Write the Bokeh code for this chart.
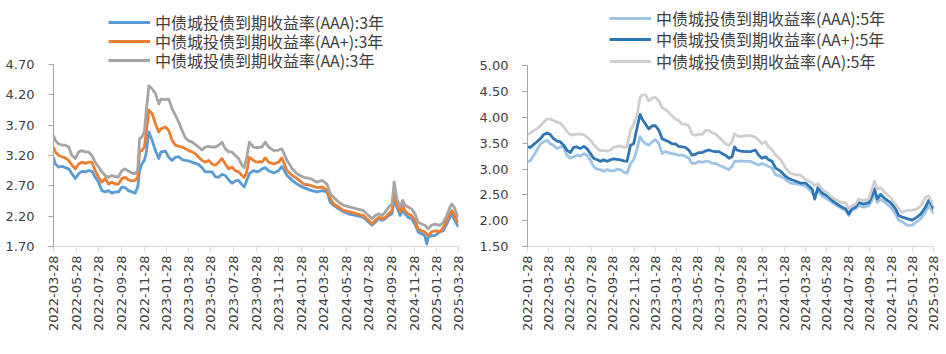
import math
import pandas as pd
from bokeh.plotting import figure
from bokeh.layouts import row
from bokeh.models import (Range1d, FixedTicker, DatetimeTickFormatter,
                          PrintfTickFormatter, Legend, LegendItem)
from bokeh.embed import file_html
from bokeh.resources import INLINE

# ---------------- Left chart: 3-year ----------------
dates_3y = [
    "2022-03-28", "2022-04-02", "2022-04-11", "2022-04-20", "2022-04-29", "2022-05-08", "2022-05-17", "2022-05-26", "2022-06-04", "2022-06-13",
    "2022-06-22", "2022-07-01", "2022-07-10", "2022-07-19", "2022-07-28", "2022-08-06", "2022-08-15", "2022-08-24", "2022-09-02", "2022-09-11",
    "2022-09-20", "2022-09-29", "2022-10-08", "2022-10-17", "2022-10-26", "2022-11-04", "2022-11-11", "2022-11-16", "2022-11-22", "2022-11-29",
    "2022-12-04", "2022-12-08", "2022-12-11", "2022-12-20", "2022-12-29", "2023-01-07", "2023-01-13", "2023-01-25", "2023-02-03", "2023-02-12",
    "2023-02-21", "2023-03-02", "2023-03-11", "2023-03-20", "2023-03-29", "2023-04-07", "2023-04-16", "2023-04-25", "2023-05-04", "2023-05-13",
    "2023-05-22", "2023-05-31", "2023-06-09", "2023-06-18", "2023-06-27", "2023-07-06", "2023-07-15", "2023-07-24", "2023-08-02", "2023-08-11",
    "2023-08-20", "2023-08-26", "2023-09-02", "2023-09-09", "2023-09-20", "2023-09-29", "2023-10-08",
    "2023-10-13", "2023-10-22", "2023-10-31", "2023-11-14", "2023-11-27", "2023-12-06", "2023-12-20", "2024-01-03", "2024-01-16", "2024-02-03",
    "2024-02-21", "2024-03-10", "2024-03-24", "2024-04-06", "2024-04-15", "2024-04-24", "2024-05-08", "2024-05-21", "2024-06-08", "2024-06-26",
    "2024-07-14", "2024-07-28", "2024-08-06", "2024-08-15", "2024-08-24", "2024-09-02", "2024-09-11", "2024-09-20", "2024-09-29", "2024-10-05",
    "2024-10-12", "2024-10-21", "2024-10-28", "2024-11-03", "2024-11-12", "2024-11-21", "2024-11-30", "2024-12-09", "2024-12-18", "2024-12-27",
    "2025-01-01", "2025-01-05", "2025-01-14", "2025-01-23", "2025-02-06", "2025-02-15", "2025-02-24", "2025-03-05", "2025-03-10", "2025-03-16",
    "2025-03-23", "2025-03-28",
]

aaa_3y = [
    3.17, 3.06, 3.01, 3.02, 3.00, 2.98, 2.90, 2.82, 2.90, 2.94,
    2.93, 2.95, 2.94, 2.84, 2.76, 2.62, 2.60, 2.62, 2.58, 2.60,
    2.60, 2.68, 2.67, 2.62, 2.60, 2.58, 2.68, 2.95, 3.06, 3.12,
    3.25, 3.45, 3.59, 3.45, 3.28, 3.15, 3.26, 3.27, 3.17, 3.12,
    3.17, 3.18, 3.13, 3.12, 3.11, 3.09, 3.07, 3.05, 3.00, 2.93,
    2.93, 2.93, 2.85, 2.84, 2.89, 2.87, 2.80, 2.74, 2.78, 2.79,
    2.72, 2.68, 2.79, 2.90, 2.95, 2.93, 2.95,
    2.98, 3.00, 2.95, 2.91, 2.95, 3.02, 2.87, 2.79, 2.73, 2.67,
    2.63, 2.60, 2.62, 2.60, 2.43, 2.38, 2.32, 2.27, 2.23, 2.21,
    2.18, 2.10, 2.05, 2.10, 2.16, 2.13, 2.16, 2.21, 2.24, 2.49,
    2.35, 2.21, 2.29, 2.24, 2.18, 2.16, 2.07, 1.94, 1.91, 1.88,
    1.74, 1.85, 1.88, 1.88, 1.94, 1.96, 2.07, 2.18, 2.24, 2.16,
    2.07, 2.02,
]

aap_3y = [
    3.34, 3.26, 3.20, 3.18, 3.16, 3.12, 3.04, 2.98, 3.06, 3.09,
    3.07, 3.09, 3.09, 2.95, 2.84, 2.76, 2.82, 2.73, 2.76, 2.73,
    2.73, 2.82, 2.84, 2.80, 2.78, 2.79, 2.84, 3.28, 3.28, 3.34,
    3.59, 3.78, 3.95, 3.89, 3.72, 3.59, 3.64, 3.67, 3.61, 3.45,
    3.37, 3.35, 3.34, 3.31, 3.28, 3.26, 3.23, 3.17, 3.12, 3.09,
    3.12, 3.06, 3.04, 3.09, 3.15, 3.06, 2.98, 3.01, 2.95, 2.93,
    2.87, 2.84, 2.93, 3.17, 3.12, 3.09, 3.10,
    3.09, 3.16, 3.09, 3.06, 3.09, 3.16, 2.95, 2.87, 2.82, 2.73,
    2.71, 2.67, 2.68, 2.63, 2.49, 2.40, 2.35, 2.29, 2.27, 2.24,
    2.21, 2.13, 2.07, 2.13, 2.18, 2.16, 2.18, 2.24, 2.29, 2.57,
    2.40, 2.27, 2.38, 2.29, 2.24, 2.21, 2.13, 1.99, 1.96, 1.94,
    1.91, 1.88, 1.94, 1.96, 1.94, 2.02, 2.13, 2.24, 2.29, 2.24,
    2.13, 2.10,
]

aa_3y = [
    3.53, 3.45, 3.39, 3.37, 3.37, 3.34, 3.20, 3.15, 3.26, 3.28,
    3.26, 3.26, 3.20, 3.09, 3.01, 2.93, 2.87, 2.84, 2.87, 2.85,
    2.85, 2.95, 2.98, 2.94, 2.91, 2.90, 2.95, 3.48, 3.50, 3.59,
    3.94, 4.16, 4.35, 4.30, 4.22, 4.05, 4.13, 4.12, 4.13, 3.97,
    3.86, 3.75, 3.61, 3.49, 3.44, 3.42, 3.38, 3.34, 3.29, 3.34,
    3.35, 3.34, 3.34, 3.37, 3.42, 3.31, 3.26, 3.26, 3.20, 3.15,
    3.04, 3.00, 3.17, 3.42, 3.34, 3.33, 3.34,
    3.34, 3.42, 3.34, 3.28, 3.29, 3.31, 3.12, 2.98, 2.90, 2.84,
    2.82, 2.76, 2.79, 2.73, 2.57, 2.51, 2.43, 2.38, 2.35, 2.32,
    2.29, 2.21, 2.16, 2.21, 2.24, 2.21, 2.27, 2.35, 2.40, 2.76,
    2.49, 2.35, 2.46, 2.38, 2.35, 2.32, 2.24, 2.10, 2.07, 2.05,
    2.02, 1.99, 2.05, 2.07, 2.05, 2.10, 2.21, 2.35, 2.40, 2.35,
    2.24, 2.18,
]

ticks_3y = ["2022-03-28", "2022-05-28", "2022-07-28", "2022-09-28", "2022-11-28",
            "2023-01-28", "2023-03-28", "2023-05-28", "2023-07-28", "2023-09-28",
            "2023-11-28", "2024-01-28", "2024-03-28", "2024-05-28", "2024-07-28",
            "2024-09-28", "2024-11-28", "2025-01-28", "2025-03-28"]
yticks_3y = [1.70, 2.20, 2.70, 3.20, 3.70, 4.20, 4.70]
labels_3y = ["中债城投债到期收益率(AAA):3年", "中债城投债到期收益率(AA+):3年", "中债城投债到期收益率(AA):3年"]
colors_3y = ["#5B9BD5", "#ED7D31", "#A5A5A5"]

# ---------------- Right chart: 5-year ----------------
dates_5y = [
    "2022-01-28", "2022-02-05", "2022-02-15", "2022-02-24", "2022-03-06", "2022-03-15", "2022-03-25", "2022-04-03", "2022-04-12", "2022-04-22",
    "2022-05-01", "2022-05-11", "2022-05-20", "2022-05-30", "2022-06-08", "2022-06-18", "2022-06-27", "2022-07-07", "2022-07-16", "2022-07-26",
    "2022-08-04", "2022-08-14", "2022-08-23", "2022-09-02", "2022-09-11", "2022-09-21", "2022-09-30", "2022-10-10", "2022-10-19", "2022-10-29",
    "2022-11-07", "2022-11-17", "2022-11-26", "2022-12-06", "2022-12-14", "2022-12-20", "2022-12-30", "2023-01-08", "2023-01-18", "2023-01-27",
    "2023-02-06", "2023-02-15", "2023-02-24", "2023-03-06", "2023-03-15", "2023-03-25", "2023-04-03", "2023-04-13", "2023-04-22", "2023-05-02",
    "2023-05-11", "2023-05-21", "2023-05-30", "2023-06-09", "2023-06-18", "2023-06-28", "2023-07-07", "2023-07-17", "2023-07-26", "2023-08-05",
    "2023-08-14", "2023-08-24", "2023-09-02", "2023-09-09", "2023-09-16", "2023-09-26",
    "2023-10-10", "2023-10-24", "2023-11-07", "2023-11-17", "2023-11-26", "2023-12-06", "2023-12-15", "2023-12-25", "2024-01-04", "2024-01-18",
    "2024-02-01", "2024-02-15", "2024-02-29", "2024-03-14", "2024-03-29", "2024-04-17", "2024-04-24", "2024-05-03", "2024-05-15", "2024-05-30",
    "2024-06-13", "2024-06-27", "2024-07-11", "2024-07-21", "2024-07-30", "2024-08-08", "2024-08-18", "2024-08-27", "2024-09-10", "2024-09-25",
    "2024-10-04", "2024-10-11", "2024-10-19", "2024-10-28", "2024-11-11", "2024-11-26", "2024-12-10", "2024-12-19", "2024-12-29", "2025-01-12",
    "2025-01-26", "2025-02-09", "2025-02-20", "2025-03-05", "2025-03-14", "2025-03-24", "2025-03-28",
]

aaa_5y = [
    3.15, 3.16, 3.27, 3.37, 3.49, 3.53, 3.56, 3.49, 3.46, 3.40,
    3.43, 3.43, 3.27, 3.21, 3.24, 3.27, 3.25, 3.30, 3.27, 3.18,
    3.05, 3.00, 2.99, 2.96, 2.99, 2.97, 2.96, 3.00, 2.99, 2.94,
    2.92, 3.11, 3.18, 3.40, 3.63, 3.56, 3.49, 3.46, 3.53, 3.57,
    3.49, 3.30, 3.34, 3.32, 3.30, 3.29, 3.27, 3.27, 3.25, 3.21,
    3.11, 3.11, 3.15, 3.13, 3.15, 3.15, 3.11, 3.11, 3.08, 3.05,
    3.02, 2.99, 3.05, 3.15, 3.15, 3.16,
    3.15, 3.15, 3.11, 3.08, 3.11, 3.08, 3.05, 3.02, 2.89, 2.86,
    2.80, 2.73, 2.72, 2.70, 2.67, 2.54, 2.48, 2.58, 2.48, 2.42,
    2.35, 2.29, 2.23, 2.20, 2.10, 2.20, 2.23, 2.29, 2.26, 2.29,
    2.39, 2.54, 2.35, 2.42, 2.35, 2.26, 2.13, 2.01, 1.98, 1.91,
    1.91, 1.98, 2.04, 2.16, 2.29, 2.20, 2.13,
]

aap_5y = [
    3.43, 3.42, 3.48, 3.53, 3.59, 3.67, 3.70, 3.67, 3.59, 3.54,
    3.53, 3.46, 3.37, 3.32, 3.42, 3.43, 3.40, 3.44, 3.40, 3.30,
    3.21, 3.18, 3.15, 3.18, 3.15, 3.18, 3.20, 3.19, 3.18, 3.16,
    3.15, 3.46, 3.49, 3.81, 4.06, 3.97, 3.87, 3.78, 3.84, 3.84,
    3.75, 3.59, 3.56, 3.53, 3.49, 3.49, 3.44, 3.43, 3.42, 3.37,
    3.27, 3.29, 3.32, 3.32, 3.35, 3.37, 3.35, 3.34, 3.34, 3.30,
    3.27, 3.21, 3.24, 3.43, 3.37, 3.35,
    3.34, 3.34, 3.37, 3.27, 3.21, 3.24, 3.18, 3.15, 3.02, 2.96,
    2.86, 2.80, 2.77, 2.73, 2.73, 2.61, 2.42, 2.64, 2.54, 2.48,
    2.39, 2.32, 2.26, 2.23, 2.13, 2.23, 2.26, 2.35, 2.32, 2.35,
    2.48, 2.62, 2.42, 2.51, 2.42, 2.35, 2.23, 2.10, 2.07, 2.04,
    2.01, 2.07, 2.13, 2.26, 2.39, 2.29, 2.23,
]

aa_5y = [
    3.67, 3.70, 3.75, 3.78, 3.84, 3.91, 3.97, 3.97, 3.94, 3.91,
    3.89, 3.82, 3.73, 3.66, 3.67, 3.68, 3.68, 3.67, 3.62, 3.56,
    3.48, 3.40, 3.36, 3.36, 3.35, 3.37, 3.42, 3.44, 3.45, 3.42,
    3.43, 3.75, 3.87, 4.06, 4.38, 4.44, 4.44, 4.32, 4.38, 4.39,
    4.32, 4.19, 4.16, 4.10, 4.03, 3.97, 3.94, 3.87, 3.87, 3.84,
    3.68, 3.65, 3.68, 3.67, 3.75, 3.75, 3.70, 3.68, 3.62, 3.56,
    3.49, 3.46, 3.53, 3.68, 3.65, 3.63,
    3.65, 3.65, 3.62, 3.56, 3.49, 3.53, 3.43, 3.37, 3.27, 3.18,
    3.02, 2.92, 2.89, 2.89, 2.80, 2.73, 2.68, 2.72, 2.61, 2.54,
    2.45, 2.39, 2.35, 2.35, 2.23, 2.29, 2.32, 2.42, 2.39, 2.42,
    2.61, 2.77, 2.61, 2.64, 2.54, 2.45, 2.32, 2.23, 2.16, 2.20,
    2.20, 2.23, 2.29, 2.45, 2.48, 2.35, 2.29,
]

ticks_5y = ["2022-01-28", "2022-03-28", "2022-05-28", "2022-07-28", "2022-09-28",
            "2022-11-28", "2023-01-28", "2023-03-28", "2023-05-28", "2023-07-28",
            "2023-09-28", "2023-11-28", "2024-01-28", "2024-03-28", "2024-05-28",
            "2024-07-28", "2024-09-28", "2024-11-28", "2025-01-28", "2025-03-28"]
yticks_5y = [1.50, 2.00, 2.50, 3.00, 3.50, 4.00, 4.50, 5.00]
labels_5y = ["中债城投债到期收益率(AAA):5年", "中债城投债到期收益率(AA+):5年", "中债城投债到期收益率(AA):5年"]
colors_5y = ["#9DC3E6", "#2E75B6", "#D0CECE"]


def to_ms(d):
    return pd.Timestamp(d).timestamp() * 1000.0


def make_chart(width, borders, axis_top, dates, series, labels, colors, xticks,
               yticks, legend_x, legend_rows):
    # borders: left, right, bottom; axis_top: pixel row where the value axis ends.
    # The frame reaches the top of the canvas so the legend (drawn inside
    # the frame) can sit above the value axis, whose line is bounded.
    bl, br, bb = borders
    H = 354
    frame_h = H - bb
    axis_h = frame_h - axis_top
    y0, y1 = yticks[0], yticks[-1]
    y_top = y0 + (y1 - y0) * frame_h / axis_h
    p = figure(width=width, height=H, x_axis_type="datetime",
               x_range=Range1d(start=pd.Timestamp(xticks[0]), end=pd.Timestamp(xticks[-1])),
               y_range=Range1d(start=y0, end=y_top),
               output_backend="svg", toolbar_location=None,
               min_border_left=bl, min_border_right=br,
               min_border_top=0, min_border_bottom=bb)
    p.outline_line_color = None
    p.grid.visible = False
    p.background_fill_color = "white"
    p.border_fill_color = "white"

    x = pd.to_datetime(dates)
    renderers = []
    for vals, col in zip(series, colors):
        r = p.line(x, vals, line_color=col, line_width=2.8, line_join="round")
        renderers.append(r)

    # value axis
    p.yaxis.bounds = (y0, y1)
    p.yaxis.ticker = FixedTicker(ticks=yticks)
    p.yaxis.formatter = PrintfTickFormatter(format="%.2f")
    p.yaxis.axis_line_color = "#A6A6A6"
    p.yaxis.major_tick_line_color = "#A6A6A6"
    p.yaxis.major_tick_out = 5
    p.yaxis.major_tick_in = 0
    p.yaxis.minor_tick_out = 0
    p.yaxis.minor_tick_in = 0
    p.yaxis.major_label_standoff = 14
    p.yaxis.major_label_text_font = "DejaVu Sans"
    p.yaxis.major_label_text_font_size = "13px"
    p.yaxis.major_label_text_color = "#404040"

    # date axis
    p.xaxis.ticker = FixedTicker(ticks=[to_ms(t) for t in xticks])
    fmt = "%Y-%m-%d"
    p.xaxis.formatter = DatetimeTickFormatter(
        microseconds=fmt, milliseconds=fmt, seconds=fmt, minsec=fmt, minutes=fmt,
        hourmin=fmt, hours=fmt, days=fmt, months=fmt, years=fmt)
    p.xaxis.axis_line_color = "#D9D9D9"
    p.xaxis.major_tick_line_color = "#D9D9D9"
    p.xaxis.major_tick_out = 5
    p.xaxis.major_tick_in = 0
    p.xaxis.minor_tick_out = 0
    p.xaxis.minor_tick_in = 0
    p.xaxis.major_label_orientation = math.pi / 2
    p.xaxis.major_label_standoff = 4
    p.xaxis.major_label_text_font = "DejaVu Sans"
    p.xaxis.major_label_text_font_size = "13px"
    p.xaxis.major_label_text_color = "#404040"

    # legend: one single-entry legend per row so row spacing is exact
    row_h = 24
    for lab, r, cy in zip(labels, renderers, legend_rows):
        vy = frame_h - (cy + row_h / 2)
        leg = Legend(items=[LegendItem(label=lab, renderers=[r])],
                     location=(legend_x, vy), orientation="vertical",
                     label_text_font="Noto Sans CJK SC", label_text_font_size="16px",
                     label_text_color="#404040", glyph_width=42, glyph_height=row_h,
                     label_height=row_h, label_standoff=5, spacing=0, padding=0,
                     margin=0, border_line_color=None, background_fill_alpha=0)
        p.add_layout(leg, "center")
    return p


p1 = make_chart(470, (53, 12, 108), 64, dates_3y, [aaa_3y, aap_3y, aa_3y],
                labels_3y, colors_3y, ticks_3y, yticks_3y, 55, [21.5, 40.5, 60])
p2 = make_chart(476, (57, 13, 102), 67, dates_5y, [aaa_5y, aap_5y, aa_5y],
                labels_5y, colors_5y, ticks_5y, yticks_5y, 82, [24, 45, 67])

layout = row(p1, p2)
open("out.html", "w").write(file_html(layout, INLINE))
